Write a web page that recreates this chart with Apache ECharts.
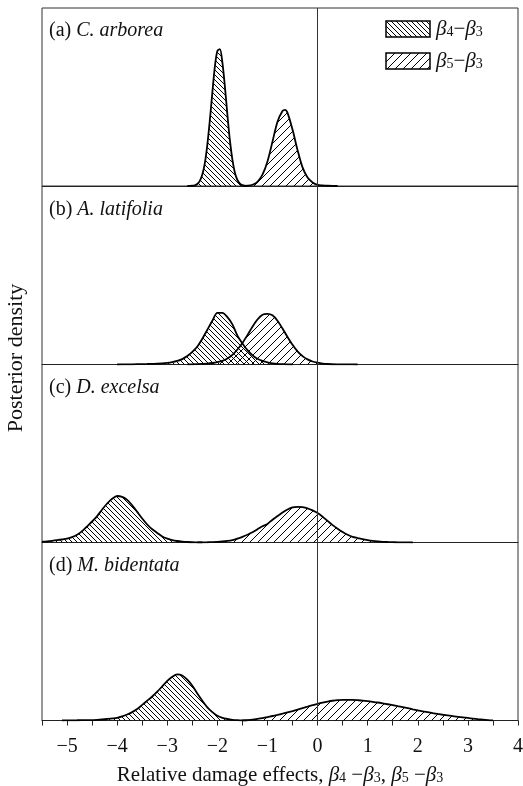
<!DOCTYPE html>
<html>
<head>
<meta charset="utf-8">
<script src="https://cdn.jsdelivr.net/npm/echarts@6/dist/echarts.min.js"></script>
<style>
html,body{margin:0;padding:0;background:#fff;}
#chart{width:523px;height:786px;}
</style>
</head>
<body>
<div id="chart"></div>
<script>
// ---------- data ----------
const panelTags = ['(a)', '(b)', '(c)', '(d)'];
const panelSpecies = ['C. arborea', 'A. latifolia', 'D. excelsa', 'M. bidentata'];
const tickLabels = [-5, -4, -3, -2, -1, 0, 1, 2, 3, 4];

// panel (a)
const aB4x = [-2.6,-2.55,-2.5,-2.45,-2.4,-2.35,-2.3,-2.25,-2.2,-2.15,-2.1,-2.05,-2.0,-1.95,-1.9,-1.85,-1.8,-1.75,-1.7,-1.65,-1.6,-1.55,-1.5,-1.45,-1.4];
const aB4y = [0,0.001,0.004,0.012,0.034,0.085,0.19,0.38,0.69,1.10,1.56,1.99,2.25,2.28,2.06,1.66,1.19,0.76,0.44,0.22,0.10,0.041,0.015,0.005,0];
const aB5x = [-1.5,-1.4,-1.3,-1.2,-1.1,-1.0,-0.9,-0.8,-0.7,-0.65,-0.6,-0.5,-0.4,-0.3,-0.2,-0.1,0.0,0.1,0.2,0.3,0.4];
const aB5y = [0.001,0.005,0.021,0.07,0.19,0.41,0.74,1.07,1.25,1.27,1.22,0.94,0.60,0.31,0.14,0.06,0.02,0.01,0.004,0.001,0];
// panel (b)
const bB4x = [-4.0,-3.8,-3.6,-3.4,-3.2,-3.0,-2.9,-2.8,-2.7,-2.6,-2.5,-2.4,-2.3,-2.2,-2.1,-2.0,-1.9,-1.8,-1.7,-1.6,-1.5,-1.4,-1.3,-1.2,-1.1,-1.0,-0.9,-0.8,-0.7,-0.6,-0.5];
const bB4y = [0,0.002,0.005,0.009,0.015,0.028,0.04,0.06,0.09,0.14,0.21,0.30,0.43,0.58,0.73,0.86,0.86,0.79,0.67,0.48,0.35,0.24,0.155,0.095,0.06,0.035,0.02,0.01,0.005,0.002,0];
const bB5x = [-2.6,-2.4,-2.2,-2.1,-2.0,-1.9,-1.8,-1.7,-1.6,-1.5,-1.4,-1.3,-1.2,-1.1,-1.0,-0.9,-0.8,-0.7,-0.6,-0.5,-0.4,-0.3,-0.2,-0.1,0.0,0.1,0.2,0.4,0.6,0.8];
const bB5y = [0.001,0.005,0.015,0.025,0.04,0.062,0.10,0.16,0.25,0.36,0.49,0.63,0.75,0.83,0.845,0.82,0.73,0.60,0.46,0.33,0.22,0.14,0.085,0.05,0.03,0.016,0.008,0.003,0.001,0];
// panel (c)
const cB4x = [-5.5,-5.4,-5.3,-5.2,-5.1,-5.0,-4.9,-4.8,-4.7,-4.6,-4.5,-4.4,-4.3,-4.2,-4.1,-4.0,-3.9,-3.8,-3.7,-3.6,-3.5,-3.4,-3.3,-3.2,-3.1,-3.0,-2.9,-2.8,-2.7,-2.6,-2.5,-2.4,-2.3];
const cB4y = [0.015,0.02,0.028,0.038,0.05,0.065,0.09,0.13,0.19,0.27,0.35,0.44,0.55,0.65,0.73,0.775,0.76,0.71,0.62,0.51,0.40,0.30,0.22,0.16,0.10,0.065,0.04,0.025,0.015,0.008,0.004,0.002,0];
const cB5x = [-2.4,-2.3,-2.2,-2.1,-2.0,-1.9,-1.8,-1.7,-1.6,-1.5,-1.4,-1.3,-1.2,-1.1,-1.0,-0.9,-0.8,-0.7,-0.6,-0.5,-0.4,-0.3,-0.2,-0.1,0.0,0.1,0.2,0.3,0.4,0.5,0.6,0.7,0.8,0.9,1.0,1.1,1.2,1.3,1.4,1.5,1.6,1.7,1.8,1.9];
const cB5y = [0,0.002,0.004,0.007,0.011,0.017,0.026,0.04,0.065,0.095,0.13,0.17,0.22,0.27,0.31,0.38,0.44,0.50,0.55,0.585,0.595,0.59,0.57,0.535,0.49,0.43,0.36,0.29,0.23,0.175,0.13,0.095,0.075,0.055,0.04,0.028,0.019,0.012,0.008,0.005,0.003,0.002,0.001,0];
// panel (d)
const dB4x = [-5.1,-5.0,-4.8,-4.6,-4.4,-4.2,-4.0,-3.9,-3.8,-3.7,-3.6,-3.5,-3.4,-3.3,-3.2,-3.1,-3.0,-2.9,-2.8,-2.7,-2.6,-2.5,-2.4,-2.3,-2.2,-2.1,-2.0,-1.9,-1.8,-1.7,-1.6,-1.5,-1.4];
const dB4y = [0,0.002,0.004,0.007,0.012,0.025,0.045,0.068,0.10,0.14,0.19,0.26,0.33,0.40,0.48,0.57,0.66,0.73,0.77,0.75,0.68,0.58,0.45,0.33,0.22,0.14,0.08,0.045,0.025,0.012,0.005,0.001,0];
const dB5x = [-1.5,-1.4,-1.3,-1.2,-1.1,-1.0,-0.9,-0.8,-0.7,-0.6,-0.5,-0.4,-0.3,-0.2,-0.1,0.0,0.1,0.2,0.3,0.4,0.5,0.6,0.7,0.8,0.9,1.0,1.1,1.2,1.3,1.4,1.5,1.6,1.7,1.8,1.9,2.0,2.1,2.2,2.3,2.4,2.5,2.6,2.7,2.8,2.9,3.0,3.1,3.2,3.3,3.4,3.5];
const dB5y = [0,0.006,0.014,0.026,0.04,0.058,0.075,0.094,0.114,0.135,0.158,0.182,0.207,0.231,0.255,0.278,0.298,0.315,0.329,0.339,0.344,0.345,0.343,0.338,0.332,0.323,0.312,0.30,0.286,0.271,0.255,0.238,0.222,0.205,0.187,0.170,0.153,0.138,0.123,0.109,0.096,0.084,0.072,0.062,0.052,0.042,0.032,0.022,0.013,0.006,0.001];

const b4Series = [[aB4x, aB4y], [bB4x, bB4y], [cB4x, cB4y], [dB4x, dB4y]];
const b5Series = [[aB5x, aB5y], [bB5x, bB5y], [cB5x, cB5y], [dB5x, dB5y]];

// ---------- hatch patterns ----------
function hatch(period, dir) {
  const c = document.createElement('canvas');
  c.width = period; c.height = period;
  const g = c.getContext('2d');
  g.strokeStyle = '#000';
  g.lineWidth = 1;
  g.beginPath();
  if (dir === 'back') { // "\\\"
    g.moveTo(-period, -period); g.lineTo(2 * period, 2 * period);
    g.moveTo(-period, 0); g.lineTo(period, 2 * period);
    g.moveTo(0, -period); g.lineTo(2 * period, period);
  } else { // "///"
    g.moveTo(-period, 2 * period); g.lineTo(2 * period, -period);
    g.moveTo(-period, period); g.lineTo(period, -period);
    g.moveTo(0, 2 * period); g.lineTo(2 * period, 0);
  }
  g.stroke();
  return c;
}
const patB4 = { image: hatch(5, 'back'), repeat: 'repeat' };
const patB5 = { image: hatch(8, 'fwd'), repeat: 'repeat' };

// ---------- layout ----------
const gridTops = [8, 186.5, 364.5, 542.5];
const gridH = 178;
const yMax = 2.967;
const FONT = 'Liberation Serif';

const grids = [], xAxes = [], yAxes = [], series = [], titles = [];
for (let i = 0; i < 4; i++) {
  const last = i === 3;
  grids.push({ left: 42, right: 5, top: gridTops[i], height: gridH, show: true, borderColor: '#333', borderWidth: 1,
    backgroundColor: 'transparent', containLabel: false, outerBoundsMode: 'none' });
  xAxes.push({
    gridIndex: i, type: 'value', min: -5.5, max: 4, interval: 0.5,
    axisLine: { show: true, onZero: false, lineStyle: { color: '#222', width: 1 } },
    axisTick: { show: last, length: 5, lineStyle: { color: '#222', width: 1 } },
    axisLabel: {
      show: last, margin: 16, fontFamily: FONT, fontSize: 20, color: '#111', hideOverlap: false,
      formatter: v => { const r = Math.round(v * 10) / 10; return tickLabels.includes(r) ? (r < 0 ? '\u2212' + Math.abs(r) : String(r)) : ''; }
    },
    splitLine: { show: false },
    name: last ? 'Relative damage effects, {i|β}{s|4}{m| \u2212}{i|β}{s|3}, {i|β}{s|5}{m| \u2212}{i|β}{s|3}' : '',
    nameLocation: 'middle', nameGap: 44,
    nameTextStyle: {
      fontFamily: FONT, fontSize: 21, color: '#111',
      rich: {
        i: { fontFamily: FONT, fontSize: 21, fontStyle: 'italic', color: '#111' },
        s: { fontFamily: FONT, fontSize: 14, color: '#111', verticalAlign: 'bottom', lineHeight: 17 },
        m: { fontFamily: FONT, fontSize: 21, color: '#111' }
      }
    }
  });
  yAxes.push({ gridIndex: i, type: 'value', min: 0, max: yMax, show: false });
  series.push({
    type: 'line', xAxisIndex: i, yAxisIndex: i, smooth: 0.3, showSymbol: false, silent: true,
    data: b4Series[i][0].map((x, k) => [x, b4Series[i][1][k]]),
    lineStyle: { color: '#000', width: 1.8 },
    areaStyle: { color: patB4, opacity: 1, origin: 'start' },
    z: 3,
    markLine: {
      silent: true, symbol: 'none', label: { show: false },
      lineStyle: { color: '#333', width: 1, type: 'solid' },
      data: [{ xAxis: 0 }], animation: false
    }
  });
  series.push({
    type: 'line', xAxisIndex: i, yAxisIndex: i, smooth: 0.3, showSymbol: false, silent: true,
    data: b5Series[i][0].map((x, k) => [x, b5Series[i][1][k]]),
    lineStyle: { color: '#000', width: 1.8 },
    areaStyle: { color: patB5, opacity: 1, origin: 'start' },
    z: 3
  });
  titles.push({
    text: panelTags[i] + ' {i|' + panelSpecies[i] + '}',
    left: 44, top: gridTops[i] + 8,
    textStyle: {
      fontFamily: FONT, fontSize: 20, fontWeight: 'normal', color: '#111',
      rich: { i: { fontFamily: FONT, fontSize: 20, fontStyle: 'italic', color: '#111' } }
    }
  });
}

const legendRich = {
  i: { fontFamily: FONT, fontSize: 21, fontStyle: 'italic', fill: '#111' },
  s: { fontFamily: FONT, fontSize: 14, fill: '#111', verticalAlign: 'bottom', lineHeight: 17 },
  m: { fontFamily: FONT, fontSize: 21, fill: '#111' }
};

const chart = echarts.init(document.getElementById('chart'), null, { renderer: 'canvas' });
chart.setOption({
  animation: false,
  backgroundColor: '#fff',
  title: titles,
  grid: grids,
  xAxis: xAxes,
  yAxis: yAxes,
  series: series,
  graphic: [
    { type: 'rect', shape: { x: 386, y: 21, width: 44, height: 16 }, style: { fill: patB4, stroke: '#000', lineWidth: 1.5 }, z: 10 },
    { type: 'rect', shape: { x: 386, y: 53, width: 44, height: 16 }, style: { fill: patB5, stroke: '#000', lineWidth: 1.5 }, z: 10 },
    { type: 'text', x: 436, y: 29, style: { text: '{i|β}{s|4}{m|\u2212}{i|β}{s|3}', rich: legendRich, verticalAlign: 'middle', font: '21px ' + FONT }, z: 10 },
    { type: 'text', x: 436, y: 61, style: { text: '{i|β}{s|5}{m|\u2212}{i|β}{s|3}', rich: legendRich, verticalAlign: 'middle', font: '21px ' + FONT }, z: 10 },
    { type: 'text', x: 16, y: 358, rotation: Math.PI / 2, style: { text: 'Posterior density', fill: '#111', font: '22px ' + FONT, align: 'center', verticalAlign: 'middle' }, z: 10 }
  ]
});
</script>
</body>
</html>
